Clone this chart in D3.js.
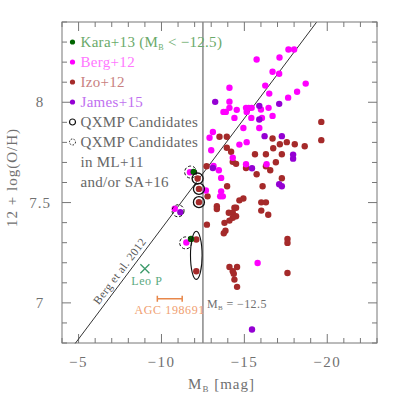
<!DOCTYPE html>
<html>
<head>
<meta charset="utf-8">
<script src="https://cdn.jsdelivr.net/npm/d3@7"></script>
<style>
  body { margin: 0; background: #fff; }
  text { font-family: "Liberation Serif", "DejaVu Serif", serif; }
</style>
</head>
<body>
<svg class="chart" width="399" height="399"></svg>
<script>
// [M_B, 12+log(O/H)]
var kara13 = [[-11.94, 7.653], [-11.78, 7.319]];

var berg12 = [
	[-17.66, 8.263], [-18.0, 8.263], [-15.74, 8.213], [-17.12, 8.223], [-16.70, 8.152],
	[-17.10, 8.142], [-14.10, 8.072], [-16.26, 8.083], [-18.70, 8.093], [-16.50, 8.043],
	[-18.18, 8.052], [-17.64, 8.023], [-14.10, 8.003], [-14.10, 7.972], [-13.74, 7.952],
	[-13.88, 7.952], [-14.54, 7.962], [-15.10, 7.972], [-15.26, 7.972], [-15.44, 7.972],
	[-15.14, 7.952], [-16.46, 7.972], [-16.0, 7.964], [-16.70, 7.932], [-15.42, 7.922],
	[-16.06, 7.922], [-14.40, 7.922], [-14.94, 7.872], [-15.90, 7.872], [-13.10, 7.852],
	[-12.90, 7.823], [-14.70, 7.789], [-15.14, 7.801], [-13.0, 7.761], [-14.30, 7.723],
	[-15.10, 7.691], [-16.34, 7.691], [-13.14, 7.682], [-13.46, 7.661], [-13.60, 7.623],
	[-12.68, 7.560], [-13.60, 7.556], [-13.54, 7.531], [-13.70, 7.531], [-15.80, 7.199],
	[-11.72, 7.651], [-10.80, 7.469], [-11.50, 7.301]
];

var izo12 = [
	[-13.50, 7.828], [-13.94, 7.828], [-16.70, 7.819], [-19.64, 7.902], [-19.64, 7.811],
	[-16.74, 7.771], [-17.14, 7.791], [-17.56, 7.801], [-18.04, 7.791], [-18.64, 7.781],
	[-15.64, 7.741], [-16.30, 7.741], [-17.26, 7.741], [-16.90, 7.701], [-16.30, 7.681],
	[-15.10, 7.672], [-16.56, 7.661], [-15.74, 7.641], [-17.26, 7.621], [-16.10, 7.581],
	[-14.70, 7.511], [-14.94, 7.520], [-16.02, 7.501], [-16.30, 7.501], [-16.02, 7.460],
	[-16.44, 7.439], [-17.60, 7.319], [-17.60, 7.299], [-17.60, 7.149], [-13.94, 7.773],
	[-14.20, 7.753], [-14.30, 7.703], [-14.50, 7.693], [-12.72, 7.681], [-13.96, 7.581],
	[-12.78, 7.531], [-13.34, 7.482], [-13.34, 7.468], [-14.40, 7.474], [-14.50, 7.474],
	[-14.06, 7.449], [-14.30, 7.449], [-14.50, 7.432], [-14.30, 7.424], [-14.10, 7.410],
	[-13.80, 7.399], [-12.74, 7.390], [-13.86, 7.360], [-13.76, 7.347], [-14.10, 7.179],
	[-14.56, 7.179], [-14.30, 7.158], [-14.36, 7.145], [-14.40, 7.116], [-14.56, 7.080],
	[-12.18, 7.620], [-12.26, 7.568], [-12.26, 7.502], [-12.10, 7.316], [-12.10, 7.158]
];

var james15 = [
	[-13.24, 8.002], [-15.90, 7.982], [-17.10, 7.992], [-15.90, 7.914], [-16.22, 7.831],
	[-17.26, 7.831], [-17.94, 7.739], [-17.94, 7.719], [-15.46, 7.671], [-13.10, 7.672],
	[-17.10, 7.591], [-17.26, 7.581], [-15.46, 6.867], [-11.14, 7.452]
];

// QXMP candidates (solid rings) and ML+11 / SA+16 candidates (dashed rings)
var qxmp = [[-12.18, 7.620], [-12.26, 7.568], [-12.26, 7.502]];
var qxmpEllipse = [[-12.10, 7.237, 0.12]]; // M_B, centre O/H, half-height in dex
var qxmpDashed = [[-11.76, 7.652], [-11.00, 7.459], [-11.46, 7.299]];

var leoP = [-9.0, 7.17];
var agc = { lo: -9.75, hi: -11.25, oh: 7.02 };
var mbCut = -12.5;
var bergFit = { a: 6.27, b: -0.11, from: -4.8, to: -19.35 };

var xMajor = [-5, -10, -15, -20];
var yMajor = [7, 7.5, 8];

var svg = d3.select(".chart");
var margin = { top: 22, right: 22, bottom: 56, left: 62 };
var width = +svg.attr("width") - margin.left - margin.right;
var height = +svg.attr("height") - margin.top - margin.bottom;

var x = d3.scaleLinear().domain([-4, -23]).range([margin.left, margin.left + width]);
var y = d3.scaleLinear().domain([6.8, 8.4]).range([margin.top + height, margin.top]);

var axisColor = "#777";
var labelColor = "#707070";

// frame + ticks on all four sides
var xMinor = d3.range(-4, -23.5, -1);
var yMinor = d3.range(68, 84.5, 1).map(function(d) { return d / 10; });

var ticks = svg.append("g").attr("stroke", axisColor).attr("stroke-width", 1);
xMinor.forEach(function(v) {
	var len = xMajor.indexOf(v) >= 0 ? 9 : 5;
	ticks.append("line").attr("x1", x(v)).attr("x2", x(v)).attr("y1", y(6.8)).attr("y2", y(6.8) - len);
	ticks.append("line").attr("x1", x(v)).attr("x2", x(v)).attr("y1", y(8.4)).attr("y2", y(8.4) + len);
});
yMinor.forEach(function(v) {
	var len = yMajor.some(function(m) { return Math.abs(m - v) < 1e-6; }) ? 9 : 5;
	ticks.append("line").attr("y1", y(v)).attr("y2", y(v)).attr("x1", x(-4)).attr("x2", x(-4) + len);
	ticks.append("line").attr("y1", y(v)).attr("y2", y(v)).attr("x1", x(-23)).attr("x2", x(-23) - len);
});

svg.append("rect")
	.attr("x", margin.left).attr("y", margin.top)
	.attr("width", width).attr("height", height)
	.attr("fill", "none").attr("stroke", axisColor).attr("stroke-width", 1);

// tick labels
svg.append("g").selectAll("text")
	.data(xMajor)
	.enter().append("text")
		.attr("x", function(d) { return x(d); })
		.attr("y", 367)
		.attr("text-anchor", "middle")
		.attr("fill", labelColor)
		.style("font-size", "15px")
		.style("letter-spacing", "1.5px")
		.text(function(d) { return "\u2212" + Math.abs(d); });

svg.append("g").selectAll("text")
	.data(yMajor)
	.enter().append("text")
		.attr("x", 40)
		.attr("y", function(d) { return y(d) + 5; })
		.attr("text-anchor", "middle")
		.attr("fill", labelColor)
		.style("font-size", "15px")
		.style("letter-spacing", "1px")
		.text(function(d) { return d; });

// axis titles
var xt = svg.append("text")
	.attr("x", x(-13.5) + 2)
	.attr("y", 389)
	.attr("text-anchor", "middle")
	.attr("fill", labelColor)
	.style("font-size", "15px")
	.style("letter-spacing", "1px");
xt.append("tspan").text("M");
xt.append("tspan").attr("dy", 3).style("font-size", "9px").text("B");
xt.append("tspan").attr("dy", -3).text(" [mag]");

svg.append("text")
	.attr("transform", "translate(17," + (y(7.6) - 5) + ") rotate(-90)")
	.attr("text-anchor", "middle")
	.attr("fill", labelColor)
	.style("font-size", "15px")
	.style("letter-spacing", "1px")
	.text("12 + log(O/H)");

// M_B = -12.5 line
svg.append("line")
	.attr("x1", x(mbCut)).attr("x2", x(mbCut))
	.attr("y1", y(6.8)).attr("y2", y(8.4))
	.attr("stroke", "#888").attr("stroke-width", 1.5);

var mt = svg.append("text")
	.attr("x", x(mbCut) + 4)
	.attr("y", 308)
	.attr("fill", "#707070")
	.style("font-size", "12px")
	.style("letter-spacing", "0.4px");
mt.append("tspan").text("M");
mt.append("tspan").attr("dy", 2).style("font-size", "7px").text("B");
mt.append("tspan").attr("dy", -2).text(" = \u221212.5");

// Berg et al. 2012 relation
var fit = function(m) { return bergFit.a + bergFit.b * m; };
svg.append("line")
	.attr("x1", x(bergFit.from)).attr("y1", y(fit(bergFit.from)))
	.attr("x2", x(bergFit.to)).attr("y2", y(fit(bergFit.to)))
	.attr("stroke", "#333").attr("stroke-width", 1);

var mLab = -7.86;
var ang = Math.atan2(y(fit(mLab - 1)) - y(fit(mLab)), x(mLab - 1) - x(mLab)) * 180 / Math.PI;
svg.append("text")
	.attr("transform", "translate(" + x(mLab) + "," + y(fit(mLab)) + ") rotate(" + ang + ")")
	.attr("dy", -4)
	.attr("text-anchor", "middle")
	.attr("fill", "#555")
	.style("font-size", "11.5px")
	.style("letter-spacing", "0.4px")
	.text("Berg et al. 2012");

// Leo P
var leoColor = "#3c9a6a";
var lx = x(leoP[0]), ly = y(leoP[1]);
svg.append("path")
	.attr("d", "M" + (lx - 4.5) + "," + (ly - 4.5) + "L" + (lx + 4.5) + "," + (ly + 4.5) +
		"M" + (lx - 4.5) + "," + (ly + 4.5) + "L" + (lx + 4.5) + "," + (ly - 4.5))
	.attr("stroke", leoColor).attr("stroke-width", 1.3);
svg.append("text")
	.attr("x", lx + 2).attr("y", ly + 16)
	.attr("text-anchor", "middle")
	.attr("fill", "#5aaa80")
	.style("font-size", "12px")
	.style("letter-spacing", "0.6px")
	.text("Leo P");

// AGC 198691
var agcColor = "#e8874a";
svg.append("path")
	.attr("d", "M" + x(agc.lo) + "," + y(agc.oh) + "H" + x(agc.hi) +
		"M" + x(agc.lo) + "," + (y(agc.oh) - 3) + "V" + (y(agc.oh) + 3) +
		"M" + x(agc.hi) + "," + (y(agc.oh) - 3) + "V" + (y(agc.oh) + 3))
	.attr("stroke", agcColor).attr("stroke-width", 1.5).attr("fill", "none");
svg.append("text")
	.attr("x", x((agc.lo + agc.hi) / 2)).attr("y", y(agc.oh) + 15)
	.attr("text-anchor", "middle")
	.attr("fill", "#f0a070")
	.style("font-size", "12px")
	.style("letter-spacing", "0.6px")
	.text("AGC 198691");

// data points
var series = [
	{ data: izo12, color: "#a52a2a" },
	{ data: berg12, color: "#ff00ff" },
	{ data: james15, color: "#9400d3" },
	{ data: kara13, color: "#006400" }
];
series.forEach(function(s) {
	svg.append("g").selectAll("circle")
		.data(s.data)
		.enter().append("circle")
			.attr("cx", function(d) { return x(d[0]); })
			.attr("cy", function(d) { return y(d[1]); })
			.attr("r", 3.2)
			.attr("fill", s.color);
});

// candidate rings
svg.append("g").selectAll("circle")
	.data(qxmp)
	.enter().append("circle")
		.attr("cx", function(d) { return x(d[0]); })
		.attr("cy", function(d) { return y(d[1]); })
		.attr("r", 5.5)
		.attr("fill", "none").attr("stroke", "#111").attr("stroke-width", 1.3);

svg.append("g").selectAll("ellipse")
	.data(qxmpEllipse)
	.enter().append("ellipse")
		.attr("cx", function(d) { return x(d[0]); })
		.attr("cy", function(d) { return y(d[1]); })
		.attr("rx", 5.8)
		.attr("ry", function(d) { return y(d[1] - d[2]) - y(d[1]); })
		.attr("fill", "none").attr("stroke", "#111").attr("stroke-width", 1.1);

svg.append("g").selectAll("circle")
	.data(qxmpDashed)
	.enter().append("circle")
		.attr("cx", function(d) { return x(d[0]); })
		.attr("cy", function(d) { return y(d[1]); })
		.attr("r", 6)
		.attr("fill", "none").attr("stroke", "#111").attr("stroke-width", 1)
		.attr("stroke-dasharray", "3,2");

// legend
var legend = [
	{ label: "Kara+13 (M", sub: "B", rest: " < \u221212.5)", color: "#006400", text: "#6aaa6a", kind: "dot" },
	{ label: "Berg+12", color: "#ff00ff", text: "#ff77ff", kind: "dot" },
	{ label: "Izo+12", color: "#a52a2a", text: "#c88080", kind: "dot" },
	{ label: "James+15", color: "#9400d3", text: "#c070f0", kind: "dot" },
	{ label: "QXMP Candidates", color: "#111", text: "#666", kind: "ring" },
	{ label: "QXMP Candidates", color: "#111", text: "#666", kind: "dashed" },
	{ label: "in ML+11", text: "#666", kind: "none" },
	{ label: "and/or SA+16", text: "#666", kind: "none" }
];
var lg = svg.append("g").selectAll("g")
	.data(legend)
	.enter().append("g")
		.attr("transform", function(d, i) { return "translate(72.5," + (42 + i * 20) + ")"; });

lg.filter(function(d) { return d.kind === "dot"; })
	.append("circle").attr("r", 2.6).attr("fill", function(d) { return d.color; });
lg.filter(function(d) { return d.kind === "ring"; })
	.append("circle").attr("r", 3).attr("fill", "none").attr("stroke", "#111").attr("stroke-width", 1.2);
lg.filter(function(d) { return d.kind === "dashed"; })
	.append("circle").attr("r", 3).attr("fill", "none").attr("stroke", "#111").attr("stroke-width", 1)
	.attr("stroke-dasharray", "1.5,1.5");

var lt = lg.append("text")
	.attr("x", 8)
	.attr("y", 5)
	.attr("fill", function(d) { return d.text; })
	.style("font-size", "15px")
	.style("letter-spacing", "0.3px");
lt.append("tspan").text(function(d) { return d.label; });
lt.filter(function(d) { return d.sub; }).append("tspan")
	.attr("dy", 3).style("font-size", "8px").text(function(d) { return d.sub; });
lt.filter(function(d) { return d.sub; }).append("tspan")
	.attr("dy", -3).text(function(d) { return d.rest; });
</script>
</body>
</html>
